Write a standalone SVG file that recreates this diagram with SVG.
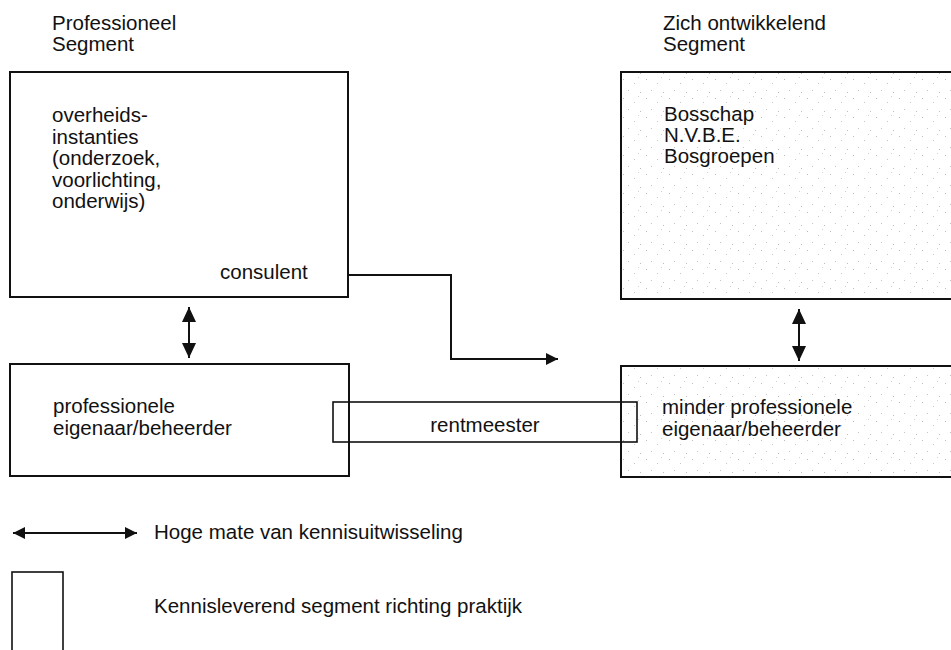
<svg xmlns="http://www.w3.org/2000/svg" width="951" height="650" viewBox="0 0 951 650">
  <defs>
    <style>
      text { font-family: "Liberation Sans", Arial, Helvetica, sans-serif; font-size: 20.5px; fill: #111; }
      .box { fill: none; stroke: #111; stroke-width: 2; }
      .thin { fill: none; stroke: #111; stroke-width: 1.6; }
      .conn { fill: none; stroke: #111; stroke-width: 2; }
    </style>
    <pattern id="speckle" width="23" height="19" patternUnits="userSpaceOnUse">
      <rect x="2" y="3" width="1" height="1" fill="#bbb"/>
      <rect x="13" y="7" width="1" height="1" fill="#c8c8c8"/>
      <rect x="7" y="14" width="1" height="1" fill="#c4c4c4"/>
      <rect x="19" y="16" width="1" height="1" fill="#bdbdbd"/>
      <rect x="17" y="1" width="1" height="1" fill="#d0d0d0"/>
    </pattern>
    <marker id="head" viewBox="0 0 12 12" refX="12" refY="6" markerWidth="12" markerHeight="12" markerUnits="userSpaceOnUse" orient="auto-start-reverse">
      <path d="M0,0 L12,6 L0,12 Z" fill="#111"/>
    </marker>
    <marker id="headV" viewBox="0 0 15 14" refX="15" refY="7" markerWidth="15" markerHeight="14" markerUnits="userSpaceOnUse" orient="auto-start-reverse">
      <path d="M0,0 L15,7 L0,14 Z" fill="#111"/>
    </marker>
  </defs>
  <rect width="951" height="650" fill="#fff"/>

  <g id="header-professioneel">
    <text x="52" y="30">Professioneel</text>
    <text x="52" y="51">Segment</text>
  </g>
  <g id="header-ontwikkelend">
    <text x="663" y="30">Zich ontwikkelend</text>
    <text x="663" y="51">Segment</text>
  </g>

  <g id="node-overheid">
    <rect class="box" x="10" y="72" width="338" height="225"/>
    <text x="52" y="122">overheids-</text>
    <text x="52" y="143.5">instanties</text>
    <text x="52" y="165">(onderzoek,</text>
    <text x="52" y="186.5">voorlichting,</text>
    <text x="52" y="208">onderwijs)</text>
    <text x="220" y="279">consulent</text>
  </g>

  <g id="node-bosschap">
    <rect x="621" y="72" width="335" height="227" fill="url(#speckle)"/>
    <rect class="box" x="621" y="72" width="335" height="227"/>
    <text x="664" y="121">Bosschap</text>
    <text x="664" y="142">N.V.B.E.</text>
    <text x="664" y="163">Bosgroepen</text>
  </g>

  <g id="node-professionele-eigenaar">
    <rect class="box" x="10" y="364" width="339" height="112"/>
    <text x="53" y="413">professionele</text>
    <text x="53" y="435">eigenaar/beheerder</text>
  </g>

  <g id="node-minder-professionele-eigenaar">
    <rect x="621" y="366" width="335" height="111" fill="url(#speckle)"/>
    <rect class="box" x="621" y="366" width="335" height="111"/>
    <text x="662" y="414">minder professionele</text>
    <text x="662" y="436">eigenaar/beheerder</text>
  </g>

  <g id="node-rentmeester">
    <rect class="thin" x="333" y="402" width="304" height="40"/>
    <text x="485" y="432" text-anchor="middle">rentmeester</text>
  </g>

  <g id="connectors">
    <line class="conn" x1="189" y1="307" x2="189" y2="358" marker-start="url(#headV)" marker-end="url(#headV)"/>
    <line class="conn" x1="799" y1="309" x2="799" y2="361" marker-start="url(#headV)" marker-end="url(#headV)"/>
    <path class="conn" d="M348,275 H451 V359 H558" marker-end="url(#head)"/>
  </g>

  <g id="legend">
    <line class="conn" x1="13" y1="533" x2="137" y2="533" marker-start="url(#head)" marker-end="url(#head)"/>
    <text x="154" y="539">Hoge mate van kennisuitwisseling</text>
    <rect class="thin" x="12" y="572" width="51" height="90"/>
    <text x="154" y="613">Kennisleverend segment richting praktijk</text>
  </g>
</svg>
